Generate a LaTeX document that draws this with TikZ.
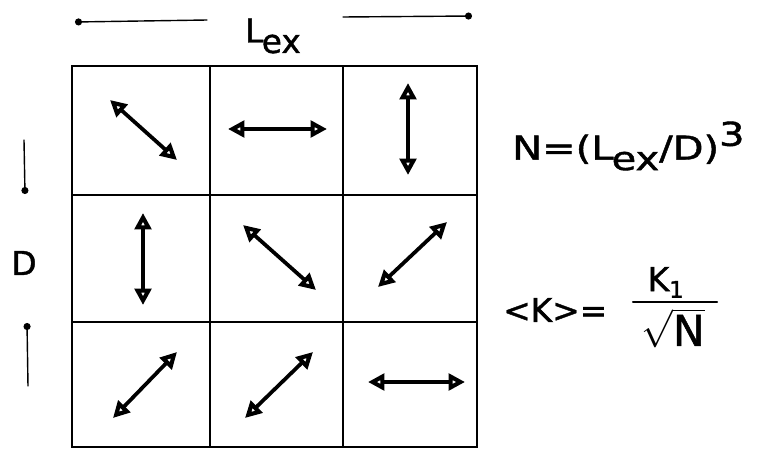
\documentclass[tikz,border=0pt]{standalone}
\usepackage{amsmath}
\usepackage{fontspec}
\setmainfont[FakeBold=1.2]{DejaVu Sans}
\usetikzlibrary{arrows.meta}
\newcommand{\Lex}{L\kern-0.05em\raisebox{-0.32em}{ex}}

\begin{document}
\begin{tikzpicture}[x=0.03cm,y=-0.03cm,line cap=round,
  spin/.style={line width=3.2pt,{Triangle[open,length=14pt,width=14pt,line width=3.6pt]}-{Triangle[open,length=14pt,width=14pt,line width=3.6pt]}},
  dim/.style={line width=1.2pt,-{Circle[length=6pt]}},
  lbl/.style={inner sep=0pt,font=\fontsize{28}{32}\selectfont}]
\useasboundingbox(0,0)rectangle(761,450);
% grid of 3x3 cells
\coordinate(A)at(72,66);\coordinate(B)at(477,66);\coordinate(C)at(477,447);\coordinate(E)at(72,447);
\draw[line width=1.8pt](A)--(B)--(C)--(E)--cycle;
\draw[line width=1.6pt](210,66)--(210,447);\draw[line width=1.6pt](343,66)--(343,447);
\draw[line width=1.6pt](72,195)--(477,195);\draw[line width=1.6pt](72,322)--(477,322);
% arrows in the cells
\coordinate(a1)at(110,100);\coordinate(b1)at(177,160);
\coordinate(a2)at(228,129);\coordinate(b2)at(327,129);
\coordinate(a3)at(408,83);\coordinate(b3)at(408,175);
\coordinate(a4)at(143,213);\coordinate(b4)at(143,305);
\coordinate(a5)at(243,225);\coordinate(b5)at(316,290);
\coordinate(a6)at(447,222);\coordinate(b6)at(378,287);
\coordinate(a7)at(177,352);\coordinate(b7)at(113,418);
\coordinate(a8)at(313,352);\coordinate(b8)at(245,418);
\coordinate(a9)at(368,382);\coordinate(b9)at(465,382);
\foreach \i in {1,...,9}{\draw[spin](a\i)--(b\i);}
% dimensions
\node[lbl](lex)at(273,36){\Lex};
\coordinate(tl)at(207,20);\coordinate(tle)at(75,22);\coordinate(tr)at(343,17);\coordinate(tre)at(472,16);
\draw[dim](tl)--(tle);\draw[dim](tr)--(tre);
\node[lbl](d)at(24,263){D};
\coordinate(dt)at(24,140);\coordinate(dte)at(25,194);\coordinate(db)at(28,386);\coordinate(dbe)at(27,323);
\draw[dim](dt)--(dte);\draw[dim](db)--(dbe);
% formulas
\node[lbl,anchor=west](n)at(512,146){\scalebox{1.22}[1]{N=(\Lex/D)\raisebox{0.42em}{3}}};
\node[lbl,anchor=west](k)at(503,310){<K>=};
\node[lbl,anchor=south](k1)at(666,298){K\textsubscript{1}};
\coordinate(fl)at(633,302);\coordinate(fr)at(717,302);
\draw[line width=1.8pt](fl)--(fr);
\node[lbl,anchor=north](sn)at(673,308){\scalebox{1.3}{$\sqrt{\text{N}}$}};
\end{tikzpicture}
\end{document}
